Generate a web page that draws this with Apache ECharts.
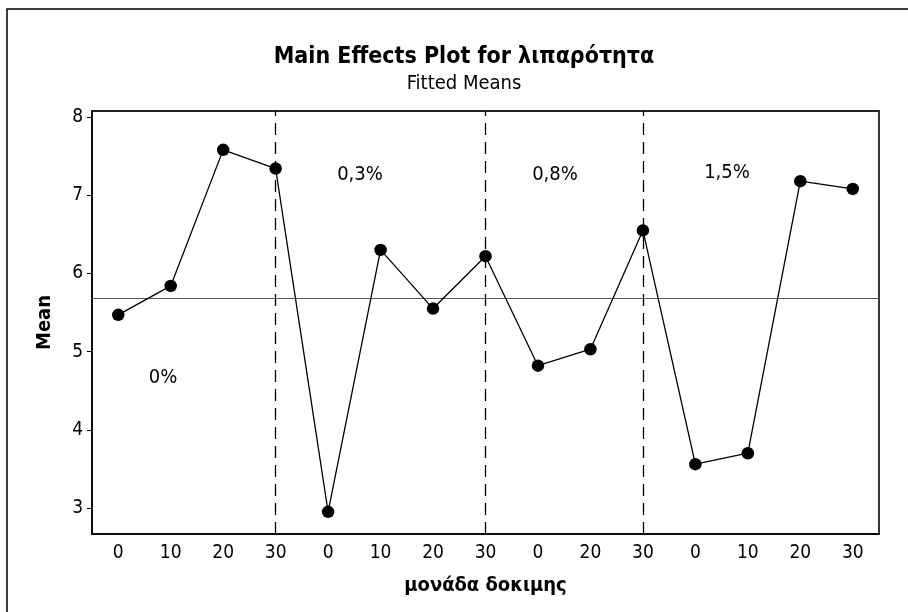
<!DOCTYPE html>
<html>
<head>
<meta charset="utf-8">
<script src="https://cdn.jsdelivr.net/npm/echarts@6/dist/echarts.min.js"></script>
<style>
html,body{margin:0;padding:0;background:#fff;}
#c{width:908px;height:612px;}
</style>
</head>
<body>
<div id="c"></div>
<script>
// Data
var categories = ['0','10','20','30','0','10','20','30','0','20','30','0','10','20','30'];
var means = [5.47, 5.84, 7.58, 7.34, 2.95, 6.30, 5.55, 6.22, 4.82, 5.03, 6.55, 3.56, 3.70, 7.18, 7.08];
var overallMean = 5.68;
var groupBoundaries = [3, 7, 10];
var groupLabels = ['0%', '0,3%', '0,8%', '1,5%'];
var yTicks = [3, 4, 5, 6, 7, 8];

var FONT = "'DejaVu Sans Condensed', 'DejaVu Sans', sans-serif";

var chart = echarts.init(document.getElementById('c'), null, {renderer: 'canvas'});

var option = {
  animation: false,
  backgroundColor: '#fff',
  title: [{
    text: 'Main Effects Plot for λιπαρότητα',
    subtext: 'Fitted Means',
    left: 459, top: 41, textAlign: 'center',
    itemGap: 5,
    textStyle: {fontFamily: FONT, fontSize: 23, fontWeight: 'bold', color: '#000'},
    subtextStyle: {fontFamily: FONT, fontSize: 20, color: '#000'}
  }],
  grid: {left: 92, top: 111, right: 29, bottom: 78, show: true, borderColor: '#222', borderWidth: 1.8, containLabel: false},
  xAxis: {
    type: 'category',
    data: categories,
    boundaryGap: true,
    name: 'μονάδα δοκιμης',
    nameLocation: 'middle',
    nameGap: 42,
    nameTextStyle: {fontFamily: FONT, fontSize: 20, fontWeight: 'bold', color: '#000'},
    axisLine: {lineStyle: {color: '#000', width: 1.5}},
    axisTick: {alignWithLabel: true, length: 8, lineStyle: {color: '#000'}},
    axisLabel: {fontFamily: FONT, fontSize: 19, color: '#000', margin: 10, interval: 0},
    splitLine: {show: false}
  },
  yAxis: {
    type: 'value',
    min: 2.667, max: 8.077,
    name: 'Mean',
    nameLocation: 'middle',
    nameGap: 37,
    nameTextStyle: {fontFamily: FONT, fontSize: 20, fontWeight: 'bold', color: '#000'},
    axisLine: {show: true, lineStyle: {color: '#000', width: 1.5}},
    axisTick: {show: true, length: 5, customValues: yTicks, lineStyle: {color: '#000'}},
    axisLabel: {fontFamily: FONT, fontSize: 19, color: '#000', margin: 9, customValues: yTicks},
    splitLine: {show: false}
  },
  series: [{
    type: 'line',
    data: means,
    symbol: 'circle',
    symbolSize: 12.5,
    itemStyle: {color: '#000'},
    lineStyle: {color: '#000', width: 1.3},
    z: 5,
    markLine: {
      silent: true,
      symbol: ['none', 'none'],
      label: {show: false},
      animation: false,
      data: [
        {yAxis: overallMean, lineStyle: {color: '#555', width: 1.2, type: 'solid'}}
      ].concat(groupBoundaries.map(function (b) {
        return {xAxis: b, lineStyle: {color: '#000', width: 1.3, type: [12, 7]}};
      }))
    }
  }],
  graphic: [
    {type: 'rect', shape: {x: 7, y: 9, width: 960, height: 700}, style: {fill: 'none', stroke: '#000', lineWidth: 1.5}, silent: true, z: -10},
    {type: 'text', x: 163, y: 378, style: {text: groupLabels[0], font: '20px ' + FONT, fill: '#000', align: 'center', verticalAlign: 'middle'}},
    {type: 'text', x: 360, y: 175, style: {text: groupLabels[1], font: '20px ' + FONT, fill: '#000', align: 'center', verticalAlign: 'middle'}},
    {type: 'text', x: 555, y: 175, style: {text: groupLabels[2], font: '20px ' + FONT, fill: '#000', align: 'center', verticalAlign: 'middle'}},
    {type: 'text', x: 727, y: 173, style: {text: groupLabels[3], font: '20px ' + FONT, fill: '#000', align: 'center', verticalAlign: 'middle'}}
  ]
};
chart.setOption(option);
</script>
</body>
</html>
